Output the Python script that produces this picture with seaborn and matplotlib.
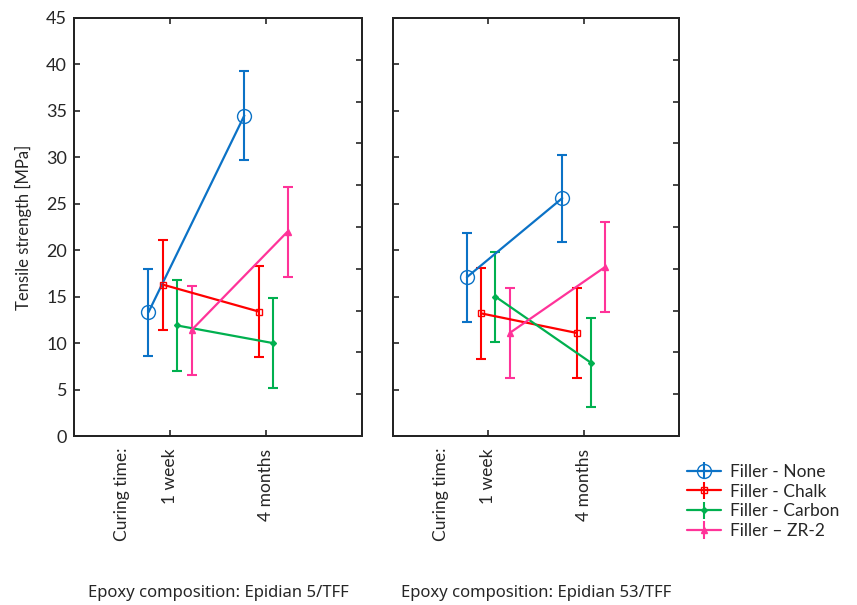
"""Tensile strength vs curing time for two epoxy compositions (interaction plot)."""

import matplotlib
matplotlib.use("Agg")
import matplotlib.pyplot as plt
import matplotlib.transforms as mtransforms
import numpy as np
import pandas as pd
import seaborn as sns

# ---- data ----
curing = ["1 week", "4 months"]
fillers = ["Filler - None", "Filler - Chalk", "Filler - Carbon", "Filler \u2013 ZR-2"]
compositions = ["Epoxy composition: Epidian 5/TFF", "Epoxy composition: Epidian 53/TFF"]

# mean tensile strength [MPa], order: 1 week, 4 months
e5_none = [13.3, 34.5]
e5_chalk = [16.3, 13.4]
e5_carbon = [11.9, 10.0]
e5_zr2 = [11.4, 22.0]
e53_none = [17.1, 25.6]
e53_chalk = [13.2, 11.1]
e53_carbon = [15.0, 7.9]
e53_zr2 = [11.1, 18.2]

# half-width of the error bars [MPa]
e5_none_err = [4.7, 4.75]
e5_chalk_err = [4.85, 4.9]
e5_carbon_err = [4.85, 4.85]
e5_zr2_err = [4.8, 4.85]
e53_none_err = [4.8, 4.7]
e53_chalk_err = [4.9, 4.85]
e53_carbon_err = [4.85, 4.8]
e53_zr2_err = [4.85, 4.85]

colors = ["#0B72C6", "#FF0000", "#00B04F", "#FF3399"]
markers = ["o", "s", "D", "^"]
marker_sizes = [10, 5, 3, 5]
marker_faces = ["none", "none", None, None]
offsets = [-0.225, -0.075, 0.075, 0.225]


def build_frame(means, errs):
    rows = []
    for f, (m, e) in enumerate(zip(means, errs)):
        for i, t in enumerate(curing):
            rows.append({"filler": fillers[f], "time": t, "x": i + 1 + offsets[f],
                         "strength": m[i], "err": e[i]})
    return pd.DataFrame(rows)


panels = [
    build_frame([e5_none, e5_chalk, e5_carbon, e5_zr2],
                [e5_none_err, e5_chalk_err, e5_carbon_err, e5_zr2_err]),
    build_frame([e53_none, e53_chalk, e53_carbon, e53_zr2],
                [e53_none_err, e53_chalk_err, e53_carbon_err, e53_zr2_err]),
]

sns.set_theme(style="ticks")
plt.rcParams["font.family"] = ["Lato", "DejaVu Sans"]

fig = plt.figure(figsize=(8.57, 6.05), dpi=100)
ax_pos = [[0.0863, 0.2793, 0.336, 0.691], [0.4586, 0.2793, 0.3337, 0.691]]

legend_handles = []
for k, df in enumerate(panels):
    ax = fig.add_axes(ax_pos[k])
    for f, name in enumerate(fillers):
        sub = df[df["filler"] == name]
        face = marker_faces[f] if marker_faces[f] else colors[f]
        ax.errorbar(sub["x"], sub["strength"], yerr=sub["err"], fmt="none",
                    ecolor=colors[f], elinewidth=1.5, capsize=3.5, capthick=1.5, zorder=2)
        sns.lineplot(data=sub, x="x", y="strength", ax=ax, color=colors[f], lw=1.6,
                     marker=markers[f], markersize=marker_sizes[f],
                     markerfacecolor=face, markeredgecolor=colors[f],
                     markeredgewidth=1.0, zorder=3)
        if k == 0:
            h = ax.errorbar([], [], yerr=[], fmt="-" + markers[f], color=colors[f],
                            markersize=marker_sizes[f], markerfacecolor=face,
                            markeredgecolor=colors[f], lw=1.6, capsize=4,
                            elinewidth=1.5, capthick=1.5)
            legend_handles.append(h)

    ax.set_xlim(0, 3)
    ax.set_ylim(0, 45)
    ax.set_xticks([1, 2])
    ax.set_xticklabels(curing, rotation=90, fontsize=12.5)
    ax.set_yticks(np.arange(0, 46, 5))
    ax.set_xlabel("")
    ax.set_ylabel("")
    ax.tick_params(direction="in", length=4, width=1.2, top=True, left=True, right=False)
    ax.tick_params(axis="x", pad=9)
    ax.tick_params(axis="y", labelsize=13, pad=5)
    for s in ax.spines.values():
        s.set_linewidth(1.3)
        s.set_color("black")
        s.set_visible(True)
    if k == 0:
        ax.set_ylabel("Tensile strength [MPa]", fontsize=12, labelpad=10)
    else:
        ax.tick_params(axis="y", labelleft=False)

    # secondary ticks on the right side
    ax_r = ax.twinx()
    ax_r.set_ylim(0, 45)
    ax_r.set_yticks(np.linspace(0, 45, 11))
    ax_r.tick_params(direction="in", length=4, width=1.2, labelright=False)
    for s in ax_r.spines.values():
        s.set_linewidth(1.3)

    trans = mtransforms.blended_transform_factory(ax.transData, ax.transAxes)
    ax.text(0.5, -0.027, "Curing time:", transform=trans, rotation=90, ha="center",
            va="top", fontsize=12.5)
    ax.text(0.5, -0.376, compositions[k], transform=ax.transAxes, ha="center",
            va="center", fontsize=12, family=["Noto Sans", "DejaVu Sans"])

fig.legend(legend_handles, fillers, loc="upper left", bbox_to_anchor=(0.793, 0.245),
           frameon=False, fontsize=12.5, handlelength=2.0, handletextpad=0.5,
           labelspacing=0.22, borderaxespad=0)

fig.savefig("out.png", dpi=100)
